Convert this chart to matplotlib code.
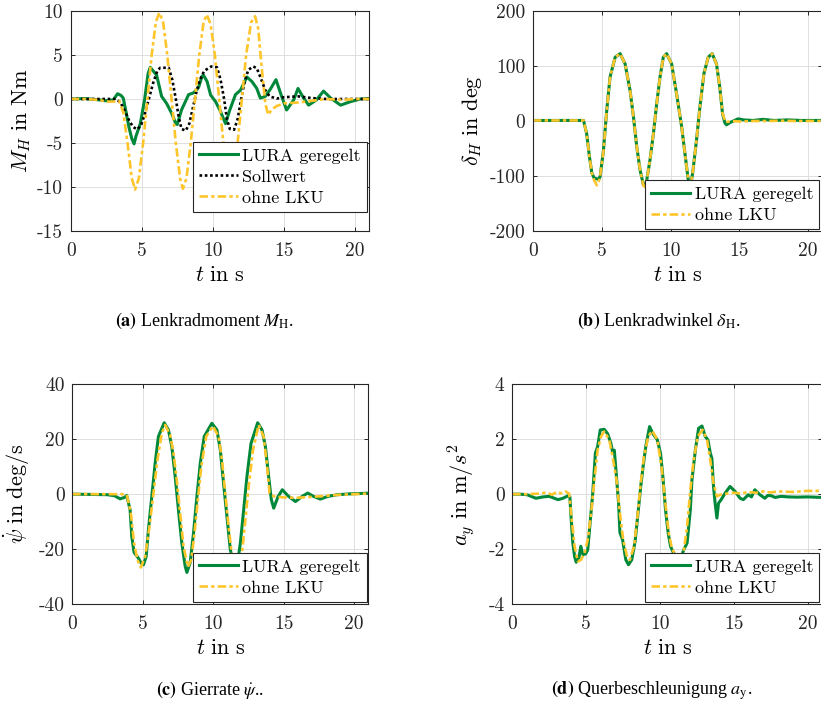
import matplotlib
matplotlib.use("Agg")
import matplotlib.pyplot as plt
import warnings
warnings.filterwarnings("ignore")

plt.rcParams['mathtext.fontset'] = 'cm'
plt.rcParams['axes.unicode_minus'] = False

# ---------------- data ----------------
xticks = [0, 5, 10, 15, 20]
xticklabels = ['0', '5', '10', '15', '20']

# (a) Lenkradmoment M_H
t_a_lura = [0, 1, 2, 2.5, 3.0, 3.3, 3.55, 3.7, 3.9, 4.1, 4.3, 4.46, 4.6, 4.9, 5.2, 5.45, 5.6, 5.75,
            6.05, 6.4, 6.75, 7.1, 7.4, 7.5, 7.8, 8.3, 8.65, 9.0, 9.25, 9.35, 9.6, 9.85, 10.2, 10.5,
            10.9, 11.2, 11.6, 11.95, 12.4, 12.75, 13.1, 13.35, 13.7, 14.05, 14.45, 14.85, 15.2,
            15.7, 16.0, 16.4, 16.75, 17.3, 17.8, 18.3, 19.0, 19.7, 20.4, 21]
a_lura = [0, 0.05, -0.1, -0.2, -0.1, 0.6, 0.4, 0.1, -1.5, -3.2, -4.5, -5.1, -4.2, -2.8, -0.1, 2.9, 3.6, 3.3,
          2.7, 0.3, -0.5, -1.6, -2.8, -2.9, -1.25, 0.5, 0.7, 1.3, 2.6, 2.7, 2.0, 0.45, -0.3, -1.25,
          -2.8, -1.25, 0.5, 1.0, 2.5, 2.0, 1.2, 0.1, 0.3, 1.1, 2.2, 0.3, -1.25,
          -0.1, 1.2, 0.1, -0.7, -0.1, 0.9, 0.1, -0.7, -0.3, 0, 0.05]
t_a_soll = [0, 3.2, 3.5, 3.8, 4.1, 4.4, 4.7, 4.95, 5.2, 5.5, 5.8, 6.1, 6.3, 6.9, 7.15, 7.4, 7.6, 7.8,
            8.1, 8.35, 8.6, 8.85, 9.1, 9.4, 9.9, 10.3, 10.55, 10.8, 11.0, 11.2, 11.5, 11.75, 12.0,
            12.25, 12.5, 12.85, 13.1, 13.4, 13.7, 14.0, 14.5, 15, 16, 17, 18, 21]
a_soll = [0, 0, -0.4, -1.3, -2.4, -3.2, -3.45, -3.0, -1.8, 0, 1.8, 3.2, 3.55, 3.55, 2.2, 0, -2, -3.4,
          -3.6, -2.8, -1, 0.8, 2.2, 3.2, 3.7, 3.6, 2.2, 0, -2.3, -3.4, -3.5, -2.3, 0,
          2, 3.3, 3.7, 3.5, 2.3, 1.0, 0.3, 0.05, 0.2, 0.3, 0.1, 0, 0]
t_a_ohne = [0, 1.0, 2.0, 2.5, 3.0, 3.4, 3.7, 4.0, 4.3, 4.53, 4.8, 5.1, 5.4, 5.7, 6.0, 6.24, 6.5, 6.8,
            7.1, 7.4, 7.7, 7.9, 8.15, 8.45, 8.75, 9.05, 9.35, 9.58, 9.85, 10.15, 10.45, 10.75, 11.0,
            11.2, 11.45, 11.75, 12.05, 12.35, 12.7, 12.98, 13.2, 13.45, 13.7, 13.9, 14.15, 14.5,
            15, 16, 17, 18, 19, 20, 21]
a_ohne = [0, 0, -0.1, -0.3, -0.3, -0.2, -1.5, -5, -9, -10.3, -9, -5, 0, 5, 8.8, 9.8, 8.8, 5,
          0, -5, -9, -10.2, -9, -5, 0, 5, 8.7, 9.6, 8.5, 5, 0, -5, -9,
          -10, -9, -5, 0, 5, 8.7, 9.4, 8, 3.5, -0.5, -1.8, -1.2, -0.8,
          -0.5, -0.4, -0.2, 0, -0.1, 0, 0]

# (b) Lenkradwinkel delta_H
t_b_lura = [0, 3.67, 3.9, 4.1, 4.28, 4.45, 4.76, 4.88, 5.12, 5.36, 5.6, 5.97, 6.33, 6.69, 7.05, 7.3,
            7.54, 7.78, 8.02, 8.15, 8.27, 8.5, 8.75, 8.99, 9.23, 9.47, 9.71, 10.07, 10.43, 10.8,
            11.04, 11.28, 11.45, 11.6, 11.88, 12.13, 12.42, 12.73, 13.02, 13.33, 13.57, 13.77,
            13.94, 14.06, 14.3, 14.9, 15.3, 16, 16.7, 17.5, 18.5, 19.5, 21]
b_lura = [1, 1, -23, -65, -95, -104, -106, -101, -53, 20, 80, 116, 122.5, 104, 56, 7.5,
          -47, -89, -116, -119, -107, -71, -23, 32, 80, 116, 122.5, 104, 50, -10,
          -59, -107, -118, -95, -35, 26, 86, 116, 122.5, 104, 62, 13.6,
          -3.3, -7, -3, 4, 2, 1, 3, 1, 2, 1, 1]
t_b_ohne = [0, 3.67, 3.9, 4.1, 4.28, 4.45, 4.64, 4.85, 5.12, 5.36, 5.6, 5.97, 6.33, 6.69, 7.05, 7.3,
            7.54, 7.78, 8.02, 8.15, 8.27, 8.5, 8.75, 8.99, 9.23, 9.47, 9.71, 10.07, 10.43, 10.8,
            11.04, 11.28, 11.45, 11.6, 11.88, 12.13, 12.42, 12.73, 13.02, 13.33, 13.57, 13.77,
            14.0, 14.5, 15, 16, 17, 18, 19, 20, 21]
b_ohne = [1, 1, -23, -65, -95, -108, -117, -105, -55, 20, 80, 116, 122.5, 104, 56, 7.5,
          -47, -89, -117, -120, -107, -71, -23, 32, 80, 116, 122.5, 104, 50, -10,
          -59, -107, -118, -95, -35, 26, 86, 116, 122.5, 104, 62, 13.6,
          -2, 0, -1, 0, 0, 0.5, 0, 0, 0]

# (c) Gierrate psi_dot
t_c_lura = [0, 2.5, 3.0, 3.39, 3.7, 3.86, 4.1, 4.22, 4.38, 4.69, 4.88, 5.05, 5.24, 5.4, 5.64, 5.88,
            6.11, 6.52, 6.82, 7.06, 7.3, 7.53, 7.77, 8.01, 8.13, 8.36, 8.6, 8.84, 9.08, 9.36, 9.9,
            10.26, 10.5, 10.73, 10.97, 11.21, 11.5, 11.75, 11.92, 12.16, 12.39, 12.68, 13.15,
            13.46, 13.7, 13.93, 14.12, 14.29, 14.6, 14.9, 15.3, 15.83, 16.3, 16.7, 17.13, 17.6,
            18.1, 18.8, 19.7, 21]
c_lura = [0, -0.2, -0.6, -1.7, -1.2, -0.5, -5.7, -15.4, -21.2, -23.3, -25.1, -25.7, -22.7, -13, -0.85, 11.3,
          21, 26, 23.4, 17.3, 6.4, -5.7, -17.8, -26.3, -28.5, -25, -14.2, -0.85, 11.3, 21, 25.8,
          23.4, 16.1, 4, -8.1, -20.2, -26.5, -24, -18, -5.7, 6.4, 18.5, 26,
          23.4, 17.3, 6.4, -2, -5.1, -0.85, 1.6, -0.6, -2.7, -0.85, 0.4, -0.85, -1.8,
          -0.85, -0.2, 0.1, 0.35]
t_c_ohne = [0, 3.5, 3.86, 4.15, 4.38, 4.62, 4.86, 5.17, 5.47, 5.76, 6.04, 6.35, 6.59, 6.94, 7.18, 7.41,
            7.65, 7.89, 8.2, 8.44, 8.67, 8.91, 9.15, 9.5, 9.97, 10.38, 10.62, 10.85, 11.09, 11.33,
            11.6, 11.9, 12.04, 12.28, 12.51, 12.82, 13.22, 13.57, 13.8, 13.99, 14.3, 15, 16, 17,
            18, 19, 20, 21]
c_ohne = [0, 0, -0.2, -6.7, -17.8, -23.9, -26.7, -22.7, -12, 0.4, 12.5, 22.2, 25.2, 21.6, 15, 5.2,
          -6.9, -19, -26.5, -23.9, -14.2, -2, 10.1, 21, 24.8, 21, 12.5, 0.4, -11.8, -22.7,
          -26, -24, -21.5, -9.3, 2.8, 16.1, 25.2, 21, 11.3, 0.4, -0.8, -1.2, -1.3, -1,
          -0.6, -0.2, 0, 0.2]

# (d) Querbeschleunigung a_y
t_d_lura = [0, 0.5, 1.0, 1.6, 2.08, 2.5, 3.1, 3.43, 3.77, 3.9, 3.99, 4.1, 4.22, 4.33, 4.51, 4.64, 4.78,
            4.96, 5.11, 5.27, 5.45, 5.63, 5.78, 5.96, 6.23, 6.46, 6.68, 6.79, 6.91, 7.02, 7.2, 7.29,
            7.47, 7.69, 7.87, 8.09, 8.32, 8.47, 8.7, 8.86, 9.04, 9.3, 9.53, 9.82, 10.04, 10.2,
            10.38, 10.56, 10.72, 10.87, 11.2, 11.5, 11.61, 11.84, 12.06, 12.17, 12.4, 12.62,
            12.85, 13.07, 13.25, 13.41, 13.52, 13.63, 13.74, 13.86, 13.97, 14.15, 14.42, 14.75,
            15.09, 15.43, 15.65, 15.99, 16.2, 16.43, 16.77, 17.11, 17.3, 17.55, 17.8, 18.2, 18.7,
            19.3, 20.0, 21]
d_lura = [0, 0, -0.02, -0.15, -0.1, -0.08, -0.2, -0.15, -0.06, -0.1, -0.93, -1.78, -2.27, -2.48, -2.33, -1.9, -2.2,
          -2.18, -2.03, -1.05, 0.04, 1.5, 1.73, 2.34, 2.36, 2.2, 1.85, 1.55, 1.6, 0.88, -0.33, -1.4,
          -1.66, -2.39, -2.57, -2.39, -1.72, -0.93, 0.28, 1.0, 1.73, 2.46, 2.2, 1.98, 1.49, 0.64,
          -0.57, -1.42, -1.9, -2.09, -2.35, -2.2, -2.03, -1.78, -0.57, 0.52, 1.6, 2.4,
          2.48, 2.1, 1.98, 1.5, 1.3, 0.28, -0.33, -0.87, -0.33, -0.2, 0.04, 0.28,
          0.1, -0.15, -0.2, -0.02, -0.1, 0.16, -0.02, -0.15, -0.05, -0.06, -0.12, -0.08, -0.1,
          -0.11, -0.1, -0.12]
t_d_ohne = [0, 1.0, 1.8, 2.3, 2.7, 3.0, 3.3, 3.6, 3.85, 4.0, 4.22, 4.44, 4.66, 4.89, 5.11, 5.34, 5.56,
            5.78, 6.01, 6.23, 6.57, 6.79, 7.06, 7.29, 7.51, 7.8, 7.96, 8.25, 8.48, 8.7, 8.92, 9.21,
            9.48, 9.82, 10.11, 10.34, 10.6, 10.83, 11.3, 11.61, 11.84, 12.06, 12.29, 12.56, 12.89,
            13.19, 13.41, 13.63, 13.86, 14.08, 14.42, 15, 15.5, 16, 16.5, 17, 17.5, 18, 19, 20, 21]
d_ohne = [0, 0, 0.02, 0.06, -0.02, 0.08, 0.03, 0.1, 0.02, -0.8, -1.9, -2.45, -2.39, -2.15, -1.66, -0.69, 0.52,
          1.6, 2.1, 2.28, 1.98, 1.37, 0.52, -0.69, -1.66, -2.33, -2.39, -1.9, -0.81, 0.4, 1.37, 2.1,
          2.31, 1.98, 1.0, -0.2, -1.42, -2.03, -2.3, -2.09, -1.18, 0.16, 1.25, 2.1, 2.34,
          1.98, 1.25, 0.4, -0.08, -0.02, 0.01, 0.05, 0.02, 0.08, 0.05, 0.1, 0.06, 0.1, 0.08, 0.12, 0.12]

lbl_lura = 'LURA geregelt'
lbl_soll = 'Sollwert'
lbl_ohne = 'ohne LKU'

# ---------------- styling ----------------
GREEN = '#00883a'
YELLOW = '#fec52b'
W, H = 821, 702

fig = plt.figure(figsize=(W / 100, H / 100), dpi=100)


def px_axes(l, t, r, b):
    return fig.add_axes([l / W, 1 - b / H, (r - l) / W, (b - t) / H])


def style(ax, ylim, yticks, yticklabels):
    ax.set_xlim(0, 21)
    ax.set_ylim(*ylim)
    ax.set_xticks(xticks, labels=xticklabels, fontfamily='cmr10', fontsize=14)
    ax.set_yticks(yticks, labels=yticklabels, fontfamily='cmr10', fontsize=14)
    ax.grid(True, color='#dedede', linewidth=0.7)
    ax.set_axisbelow(True)
    ax.tick_params(direction='in', length=3, width=0.7, top=True, right=True,
                   colors='#262626', labelcolor='#262626')
    ax.tick_params(axis='x', pad=8)
    ax.tick_params(axis='y', pad=5.5)
    for s in ax.spines.values():
        s.set_linewidth(0.8)
        s.set_color('#262626')


def legend(ax, handles, x, y):
    leg = ax.legend(handles=handles, loc='upper left', bbox_to_anchor=(x / W, 1 - y / H),
                    bbox_transform=fig.transFigure, prop={'family': 'cmr10', 'size': 13},
                    frameon=True, fancybox=False, framealpha=1, edgecolor='#262626',
                    borderpad=0.35, handlelength=2.15, handletextpad=0.25, labelspacing=0.3,
                    borderaxespad=0)
    leg.get_frame().set_linewidth(0.8)


dashdot = (0, (3.2, 1.2, 1.3, 1.2))

# (a)
ax = px_axes(70.7, 11, 369, 231)
h1, = ax.plot(t_a_lura, a_lura, color=GREEN, lw=2.2, label=lbl_lura)
h2, = ax.plot(t_a_soll, a_soll, color='black', lw=1.9, ls=(0, (1, 1)), label=lbl_soll)
h3, = ax.plot(t_a_ohne, a_ohne, color=YELLOW, lw=1.9, ls=dashdot, label=lbl_ohne)
style(ax, (-15, 10), [-15, -10, -5, 0, 5, 10], ['-15', '-10', '-5', '0', '5', '10'])
ax.set_xlabel(r'$t\ \mathrm{in\ s}$', fontsize=16)
ax.xaxis.set_label_coords(0.5, -0.155)
ax.set_ylabel(r'$M_H\ \mathrm{in\ Nm}$', fontsize=16)
ax.yaxis.set_label_coords(-0.128, 0.5)
legend(ax, [h1, h2, h3], 192.7, 141.7)

# (b)
ax = px_axes(533, 11, 822, 231)
h1, = ax.plot(t_b_lura, b_lura, color=GREEN, lw=2.2, label=lbl_lura)
h3, = ax.plot(t_b_ohne, b_ohne, color=YELLOW, lw=1.9, ls=dashdot, label=lbl_ohne)
style(ax, (-200, 200), [-200, -100, 0, 100, 200], ['-200', '-100', '0', '100', '200'])
ax.set_xlabel(r'$t\ \mathrm{in\ s}$', fontsize=16)
ax.xaxis.set_label_coords(0.5, -0.155)
ax.set_ylabel(r'$\delta_H\ \mathrm{in\ deg}$', fontsize=16)
ax.yaxis.set_label_coords(-0.17, 0.5)
legend(ax, [h1, h3], 645, 180)

# (c)
ax = px_axes(72.3, 384.3, 368.3, 604)
h1, = ax.plot(t_c_lura, c_lura, color=GREEN, lw=2.2, label=lbl_lura)
h3, = ax.plot(t_c_ohne, c_ohne, color=YELLOW, lw=1.9, ls=dashdot, label=lbl_ohne)
style(ax, (-40, 40), [-40, -20, 0, 20, 40], ['-40', '-20', '0', '20', '40'])
ax.set_xlabel(r'$t\ \mathrm{in\ s}$', fontsize=16)
ax.xaxis.set_label_coords(0.5, -0.155)
ax.set_ylabel(r'$\dot{\psi}\ \mathrm{in\ deg/s}$', fontsize=16)
ax.yaxis.set_label_coords(-0.136, 0.5)
legend(ax, [h1, h3], 192.7, 552.7)

# (d)
ax = px_axes(512.3, 384.3, 822.3, 604)
h1, = ax.plot(t_d_lura, d_lura, color=GREEN, lw=2.2, label=lbl_lura)
h3, = ax.plot(t_d_ohne, d_ohne, color=YELLOW, lw=1.9, ls=dashdot, label=lbl_ohne)
style(ax, (-4, 4), [-4, -2, 0, 2, 4], ['-4', '-2', '0', '2', '4'])
ax.set_xlabel(r'$t\ \mathrm{in\ s}$', fontsize=16)
ax.xaxis.set_label_coords(0.5, -0.155)
ax.set_ylabel(r'$a_y\ \mathrm{in\ m}/s^2$', fontsize=16)
ax.yaxis.set_label_coords(-0.114, 0.5)
legend(ax, [h1, h3], 645, 552.7)

# captions
cap_kw = dict(family='Liberation Serif', math_fontfamily='stix', fontsize=13,
              ha='center', va='center')
fig.text(205 / W, 1 - 321 / H, r'$\mathbf{(a)}$ Lenkradmoment $M_\mathrm{H}$.', **cap_kw)
fig.text(659 / W, 1 - 321 / H, r'$\mathbf{(b)}$ Lenkradwinkel $\delta_\mathrm{H}$.', **cap_kw)
fig.text(210 / W, 1 - 690 / H, r'$\mathbf{(c)}$ Gierrate $\dot{\psi}$..', **cap_kw)
fig.text(652 / W, 1 - 690 / H, r'$\mathbf{(d)}$ Querbeschleunigung $a_\mathrm{y}$.', **cap_kw)

fig.savefig('out.png', dpi=100)
